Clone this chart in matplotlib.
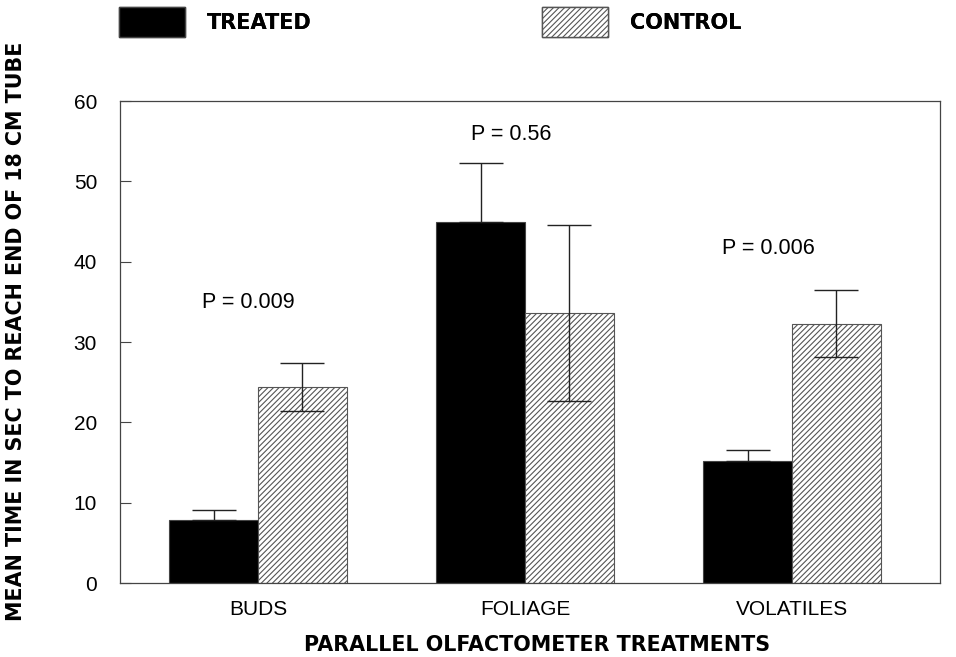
import numpy as np
import matplotlib.pyplot as plt
from matplotlib.patches import Patch

plt.rcParams["font.family"] = ["Liberation Sans", "DejaVu Sans"]
plt.rcParams["hatch.color"] = "#666666"
plt.rcParams["hatch.linewidth"] = 0.8

categories = ["BUDS", "FOLIAGE", "VOLATILES"]
treated = [7.8, 45.0, 15.2]
treated_err = [1.3, 7.3, 1.3]
control = [24.4, 33.6, 32.3]
control_err = [3.0, 11.0, 4.2]
p_labels = ["P = 0.009", "P = 0.56", "P = 0.006"]
p_heights = [34.9, 55.8, 41.7]
p_xoffset = [-0.037, -0.052, -0.09]

bold = dict(family="DejaVu Sans", weight="bold")

fig = plt.figure(figsize=(9.56, 6.57), dpi=100)
ax = fig.add_axes([0.1255, 0.1126, 0.8577, 0.7336])

x = np.arange(len(categories))
w = 0.333
ekw = dict(ecolor="#222222", elinewidth=1.0, capthick=1.0)

# treated bars only show the upper half of the error bar
ax.bar(x - w / 2, treated, w, color="black", edgecolor="#444444", linewidth=0.8,
       yerr=[np.zeros(len(treated)), treated_err], capsize=16, error_kw=ekw)
ax.bar(x + w / 2, control, w, color="white", edgecolor="#555555", linewidth=0.8, hatch="//////",
       yerr=control_err, capsize=16, error_kw=ekw)

for xi, lab, h, off in zip(x, p_labels, p_heights, p_xoffset):
    ax.text(xi + off, h, lab, ha="center", va="center", fontsize=15.5)

ax.set_xlim(-0.517, 2.554)
ax.set_ylim(0, 60)
ax.set_yticks(range(0, 61, 10))
ax.set_xticks(x)
ax.set_xticklabels(categories)
ax.tick_params(axis="y", direction="in", length=8, labelsize=15, pad=16.5, color="#444444")
ax.tick_params(axis="x", length=0, labelsize=15, pad=12)
for s in ax.spines.values():
    s.set_color("#444444")
    s.set_linewidth(0.9)

ax.set_xlabel("PARALLEL OLFACTOMETER TREATMENTS", fontsize=14.9, **bold)
ax.set_ylabel("MEAN TIME IN SEC TO REACH END OF 18 CM TUBE", fontsize=14.9, **bold)
ax.xaxis.set_label_coords(0.5085, -0.107)
ax.yaxis.set_label_coords(-0.1146, 0.523)

handles = [Patch(facecolor="black", edgecolor="#444444"),
           Patch(facecolor="white", edgecolor="#555555", hatch="//////")]
names = ["TREATED", "CONTROL"]
anchors = [(0.1245, 0.989), (0.567, 0.989)]
for h, n, a in zip(handles, names, anchors):
    leg = fig.legend([h], [n], loc="upper left", bbox_to_anchor=a, frameon=False,
                     borderpad=0, borderaxespad=0, handlelength=3.17, handleheight=1.8,
                     handletextpad=1.06, prop=dict(size=15, **bold))
    fig.add_artist(leg)

fig.savefig("out.png", dpi=100)
